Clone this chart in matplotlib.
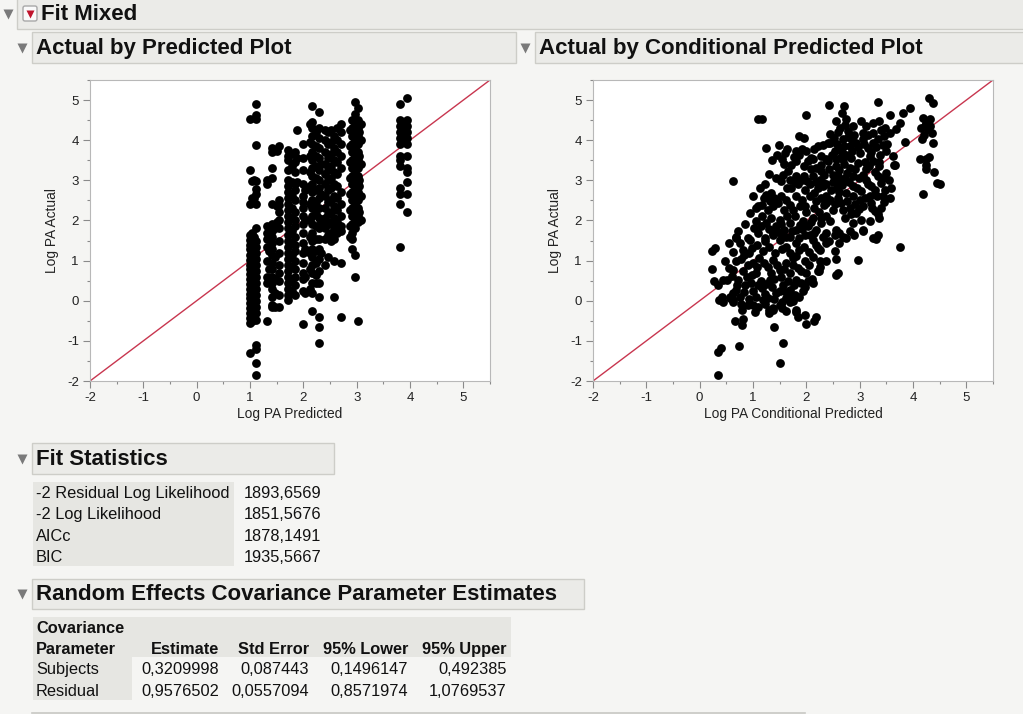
import numpy as np
import matplotlib.pyplot as plt
from matplotlib.patches import Rectangle, FancyBboxPatch

plt.rcParams['font.family'] = ['Liberation Sans', 'DejaVu Sans']
plt.rcParams['axes.unicode_minus'] = False

# ---- data ----
# Actual by Predicted: (Log PA Predicted, Log PA Actual)
pred_pts = [
    # ~1.0
    (1.00, 4.52), (1.00, 3.25), (1.00, 2.42), (1.00, 1.65), (1.00, 1.52), (1.00, 1.40), (1.00, 1.28),
    (1.00, 1.15), (1.00, 1.02), (1.00, 0.90), (1.00, 0.78), (1.00, 0.66), (1.00, 0.54), (1.00, 0.42),
    (1.00, 0.30), (1.00, 0.18), (1.00, 0.06), (1.00, -0.06), (1.00, -0.18), (1.00, -0.30), (1.00, -0.42),
    (1.00, -0.55), (1.00, -1.29),
    (1.04, 2.98), (1.04, 2.55), (1.04, 1.70), (1.04, 1.45), (1.04, 1.20), (1.04, 0.95), (1.04, 0.70),
    (1.04, 0.45), (1.04, 0.20), (1.04, -0.05), (1.04, -0.30), (1.04, -0.50),
    (1.08, 3.00), (1.08, 2.55), (1.08, 1.60), (1.08, 1.10), (1.08, 0.55), (1.08, 0.05), (1.08, -0.20),
    (1.12, 4.89), (1.12, 4.62), (1.12, 4.52), (1.12, 3.88), (1.12, 2.98), (1.12, 2.78), (1.12, 2.65),
    (1.12, 2.40), (1.12, 1.80), (1.12, 1.50), (1.12, 1.35), (1.12, 1.20), (1.12, 1.05), (1.12, 0.90),
    (1.12, 0.75), (1.12, 0.60), (1.12, 0.45), (1.12, 0.30), (1.12, 0.15), (1.12, 0.00), (1.12, -0.15),
    (1.12, -0.30), (1.12, -0.48), (1.12, -1.10), (1.12, -1.20), (1.12, -1.55), (1.12, -1.85),
    # ~1.3 - 1.55
    (1.32, 3.00), (1.32, 2.90), (1.32, 1.85), (1.32, 1.70), (1.32, 1.55), (1.32, 1.35), (1.32, 1.00),
    (1.32, 0.60), (1.32, 0.45), (1.32, -0.50), (1.36, 1.60), (1.36, 1.25), (1.36, 0.80),
    (1.42, 3.80), (1.42, 3.70), (1.42, 3.30), (1.42, 3.05), (1.42, 2.40), (1.42, 1.90), (1.42, 1.75),
    (1.42, 1.60), (1.42, 1.45), (1.42, 1.30), (1.42, 1.15), (1.42, 0.95), (1.42, 0.80), (1.42, 0.60),
    (1.42, 0.45), (1.42, 0.30), (1.42, 0.10), (1.42, -0.10), (1.42, -0.15),
    (1.47, 1.80), (1.47, 1.10), (1.47, 0.55), (1.47, 0.20), (1.47, -0.15),
    (1.50, 3.72), (1.50, 2.35), (1.50, 1.95),
    (1.54, 3.85), (1.54, 2.50), (1.54, 2.38), (1.54, 2.20), (1.54, 2.00), (1.54, 1.80), (1.54, 1.50),
    (1.54, 1.20), (1.54, 0.90), (1.54, 0.70), (1.54, 0.50), (1.54, 0.15), (1.54, -0.15),
    # ~1.7 - 1.9
    (1.72, 3.75), (1.72, 3.60), (1.72, 3.50), (1.72, 3.25), (1.72, 3.00), (1.72, 2.85), (1.72, 2.70),
    (1.72, 2.55), (1.72, 2.40), (1.72, 2.25), (1.72, 2.10), (1.72, 1.95), (1.72, 1.80), (1.72, 1.65),
    (1.72, 1.50), (1.72, 1.35), (1.72, 1.20), (1.72, 1.05), (1.72, 0.90), (1.72, 0.75), (1.72, 0.60),
    (1.72, 0.45), (1.72, 0.30), (1.72, 0.15), (1.72, 0.03),
    (1.78, 3.65), (1.78, 3.35), (1.78, 2.95), (1.78, 2.60), (1.78, 2.30), (1.78, 2.05), (1.78, 1.75),
    (1.78, 1.45), (1.78, 1.15), (1.78, 0.85), (1.78, 0.55), (1.78, 0.25),
    (1.84, 3.70), (1.84, 3.45), (1.84, 3.20), (1.84, 2.90), (1.84, 2.75), (1.84, 2.50), (1.84, 2.20),
    (1.84, 2.00), (1.84, 1.85), (1.84, 1.60), (1.84, 1.40), (1.84, 1.25), (1.84, 1.00), (1.84, 0.80),
    (1.84, 0.60), (1.84, 0.40), (1.84, 0.15), (1.88, 4.25), (1.88, 3.55), (1.88, 2.95),
    # ~2.0
    (1.99, 3.90), (1.99, 3.55), (1.99, 3.25), (1.99, 2.90), (1.99, 2.60), (1.99, 2.45), (1.99, 2.30),
    (1.99, 2.10), (1.99, 1.90), (1.99, 1.70), (1.99, 1.45), (1.99, 1.20), (1.99, 0.95), (1.99, 0.70),
    (1.99, 0.55), (1.99, 0.25), (1.99, -0.58),
    (2.04, 2.75), (2.04, 2.00), (2.04, 1.30), (2.04, 0.60), (2.04, 0.20),
    # ~2.1 - 2.35
    (2.12, 4.40), (2.12, 3.95), (2.12, 3.60), (2.12, 3.20), (2.12, 2.85), (2.12, 2.40), (2.12, 2.00),
    (2.12, 1.60), (2.12, 1.20), (2.12, 0.80), (2.12, 0.30),
    (2.17, 4.85), (2.17, 4.45), (2.17, 4.30), (2.17, 4.10), (2.17, 3.90), (2.17, 3.70), (2.17, 3.50),
    (2.17, 3.30), (2.17, 3.10), (2.17, 2.90), (2.17, 2.70), (2.17, 2.50), (2.17, 2.30), (2.17, 2.10),
    (2.17, 1.90), (2.17, 1.70), (2.17, 1.50), (2.17, 1.30), (2.17, 1.10), (2.17, 0.90), (2.17, 0.70),
    (2.17, 0.45), (2.17, 0.20), (2.17, -0.25),
    (2.23, 4.20), (2.23, 3.85), (2.23, 3.60), (2.23, 3.35), (2.23, 3.05), (2.23, 2.75), (2.23, 2.45),
    (2.23, 2.15), (2.23, 1.85), (2.23, 1.55), (2.23, 1.25), (2.23, 0.95), (2.23, 0.65), (2.23, 0.45),
    (2.29, 4.70), (2.29, 4.30), (2.29, 4.05), (2.29, 3.80), (2.29, 3.55), (2.29, 3.25), (2.29, 3.00),
    (2.29, 2.80), (2.29, 2.55), (2.29, 2.30), (2.29, 2.05), (2.29, 1.80), (2.29, 1.55), (2.29, 1.30),
    (2.29, 1.05), (2.29, 0.75), (2.29, 0.45), (2.29, 0.10), (2.29, -0.40), (2.29, -0.65), (2.29, -1.05),
    (2.33, 3.40), (2.33, 2.65), (2.33, 1.95), (2.33, 1.20),
    # ~2.4 - 2.75
    (2.40, 4.25), (2.40, 4.00), (2.40, 3.70), (2.40, 3.40), (2.40, 3.15), (2.40, 2.90), (2.40, 2.60),
    (2.40, 2.30), (2.40, 2.05), (2.40, 1.80), (2.40, 1.55), (2.40, 0.90),
    (2.46, 4.20), (2.46, 3.90), (2.46, 3.55), (2.46, 3.25), (2.46, 3.00), (2.46, 2.75), (2.46, 2.45),
    (2.46, 2.15), (2.46, 1.90), (2.46, 1.65), (2.46, 1.10),
    (2.52, 4.25), (2.52, 3.95), (2.52, 3.65), (2.52, 3.35), (2.52, 3.05), (2.52, 2.80), (2.52, 2.50),
    (2.52, 2.20), (2.52, 1.95), (2.52, 1.70), (2.52, 1.50),
    (2.58, 4.10), (2.58, 3.80), (2.58, 3.50), (2.58, 3.20), (2.58, 2.90), (2.58, 2.60), (2.58, 2.35),
    (2.58, 2.05), (2.58, 1.80), (2.58, 1.55), (2.58, 1.00), (2.58, 0.10),
    (2.64, 4.30), (2.64, 4.00), (2.64, 3.70), (2.64, 3.45), (2.64, 3.15), (2.64, 2.85), (2.64, 2.55),
    (2.64, 2.25), (2.64, 1.95), (2.64, 1.70),
    (2.70, 4.40), (2.70, 4.20), (2.70, 3.90), (2.70, 3.60), (2.70, 3.30), (2.70, 2.70), (2.70, 2.40),
    (2.70, 2.10), (2.70, 1.85), (2.70, 1.75), (2.70, 0.95), (2.70, -0.40),
    # ~2.9 - 3.05
    (2.87, 4.25), (2.87, 3.85), (2.87, 3.45), (2.87, 3.05), (2.87, 2.65), (2.87, 2.25), (2.87, 1.85),
    (2.87, 1.60),
    (2.92, 4.50), (2.92, 4.30), (2.92, 4.10), (2.92, 3.90), (2.92, 3.70), (2.92, 3.50), (2.92, 3.30),
    (2.92, 3.10), (2.92, 2.90), (2.92, 2.70), (2.92, 2.50), (2.92, 2.30), (2.92, 2.10), (2.92, 1.90),
    (2.92, 1.70), (2.92, 1.55), (2.92, 1.30),
    (2.97, 4.95), (2.97, 4.65), (2.97, 4.40), (2.97, 4.20), (2.97, 4.00), (2.97, 3.80), (2.97, 3.60),
    (2.97, 3.40), (2.97, 3.20), (2.97, 3.00), (2.97, 2.80), (2.97, 2.60), (2.97, 2.40), (2.97, 2.20),
    (2.97, 2.00), (2.97, 1.80), (2.97, 1.15), (2.97, 0.60),
    (3.02, 4.80), (3.02, 4.50), (3.02, 4.30), (3.02, 4.10), (3.02, 3.90), (3.02, 3.70), (3.02, 3.50),
    (3.02, 3.30), (3.02, 3.10), (3.02, 2.90), (3.02, 2.70), (3.02, 2.50), (3.02, 2.30), (3.02, 2.10),
    (3.02, 1.95), (3.02, -0.50),
    (3.05, 4.20), (3.05, 3.60), (3.05, 3.00), (3.05, 2.85), (3.05, 2.20),
    (3.08, 4.40), (3.08, 4.00), (3.08, 3.40), (3.08, 2.60), (3.08, 2.00),
    # ~3.85 - 3.95
    (3.82, 4.90), (3.82, 4.50), (3.82, 4.35), (3.82, 4.20), (3.82, 4.05), (3.82, 3.90), (3.82, 3.60),
    (3.82, 3.50), (3.82, 3.35), (3.82, 2.80), (3.82, 2.65), (3.82, 2.40), (3.82, 1.35),
    (3.88, 4.45), (3.88, 4.25), (3.88, 4.10), (3.88, 3.95),
    (3.94, 5.05), (3.94, 4.50), (3.94, 4.35), (3.94, 4.20), (3.94, 4.05), (3.94, 3.90), (3.94, 3.60),
    (3.94, 3.30), (3.94, 3.20), (3.94, 2.95), (3.94, 2.65), (3.94, 2.20),
]

# Actual by Conditional Predicted: (Log PA Conditional Predicted, Log PA Actual)
cond_pts = [
    # edges / outliers
    (0.34, -1.84), (0.35, -1.27), (0.40, -1.17), (0.73, -1.12), (0.79, -0.60), (0.82, -0.46), (0.66, -0.50),
    (1.40, -0.65), (1.57, -1.06), (1.51, -1.54), (1.99, -0.58), (2.14, -0.50), (0.23, 1.23), (0.29, 1.31),
    (0.24, 0.80), (0.27, 0.48), (0.35, 0.40), (0.41, 0.10), (0.37, 0.02), (0.48, 0.98), (0.62, 2.98),
    (0.60, 0.62), (0.51, 0.52), (0.56, 0.10), (0.63, 0.02), (1.10, 4.52), (1.16, 4.52), (1.99, 4.64),
    (2.42, 4.88), (2.70, 4.85), (2.67, 4.68), (3.35, 4.96), (3.56, 4.64), (3.81, 4.68), (3.94, 4.81),
    (4.30, 5.06), (4.38, 4.92), (4.18, 4.56), (4.25, 4.43), (4.32, 4.52), (4.23, 4.35), (4.16, 4.03),
    (4.35, 4.18), (4.38, 3.93), (4.14, 3.54), (4.25, 3.54), (4.30, 3.58), (4.25, 3.38), (4.24, 3.27),
    (4.39, 3.20), (4.45, 2.93), (4.50, 2.92), (4.19, 2.65), (3.85, 3.96), (3.75, 1.35), (3.66, 3.38),
    (3.56, 2.56), (3.31, 1.54), (2.97, 1.02), (3.07, 1.75), (2.55, 0.64), (2.60, 0.70), (2.55, 1.04),
    (2.24, 0.75), (2.10, 0.54), (1.94, 0.25), (1.85, -0.40), (1.81, -0.27), (1.72, 0.10), (1.37, -0.17),
    (1.30, -0.23), (1.55, -0.18), (1.04, -0.27),
    (3.75, 4.44), (3.68, 4.27), (4.15, 4.31), (4.31, 4.35), (4.21, 4.14), (4.28, 4.27),
    # upper left part of the cloud
    (1.87, 4.10), (1.96, 4.06), (1.49, 3.89), (1.63, 3.79), (1.45, 3.64), (1.60, 3.67), (1.54, 3.52),
    (1.81, 3.73), (1.91, 3.79), (1.87, 3.64), (2.00, 3.73), (2.03, 3.48), (1.81, 3.48), (1.72, 3.39),
    (2.15, 3.77), (2.21, 3.86), (2.12, 3.52), (2.28, 3.60), (2.37, 3.52), (2.40, 3.94),
    (1.66, 3.23), (1.56, 3.14), (1.44, 3.06), (1.53, 2.98), (1.69, 3.02), (1.81, 3.10), (1.84, 2.90),
    (1.72, 2.81), (1.91, 3.02), (1.97, 2.77), (2.09, 3.27), (2.19, 3.31), (2.28, 3.23), (2.12, 3.10),
    (2.25, 3.02), (2.34, 3.14), (2.06, 2.90), (2.22, 2.81), (2.31, 2.85), (2.15, 2.69), (2.37, 2.90),
    (1.13, 2.81), (1.00, 2.60), (1.09, 2.35), (1.16, 2.39), (1.25, 2.64), (1.34, 2.69), (1.40, 2.56),
    (1.47, 2.44), (1.31, 2.48), (1.53, 2.60), (1.62, 2.52), (1.69, 2.39), (1.81, 2.60), (1.91, 2.52),
    (1.97, 2.35), (2.06, 2.60), (2.19, 2.48), (2.28, 2.56), (2.37, 2.44),
    (0.94, 2.19), (1.06, 1.98), (1.16, 2.10), (1.25, 1.94), (1.34, 2.06), (1.44, 1.85), (1.50, 2.02),
    (1.59, 1.77), (1.69, 1.94), (1.78, 2.10), (1.81, 1.77), (1.94, 1.98), (2.03, 1.85), (2.12, 2.06),
    (2.19, 1.77), (2.28, 1.94), (2.37, 2.10), (0.69, 1.60), (0.91, 1.56), (1.09, 1.69), (1.22, 1.56),
    (1.37, 1.69), (1.62, 1.60), (1.87, 1.56), (2.06, 1.64), (2.31, 1.60),
    (1.58, 3.40), (1.76, 3.58), (1.95, 3.35), (2.08, 3.55), (1.64, 2.80), (1.78, 2.95), (1.95, 3.12),
    (2.02, 2.98), (2.18, 2.95), (1.58, 2.25), (1.75, 2.25), (1.88, 2.35), (2.00, 2.20), (2.14, 2.30),
    (2.24, 2.22), (1.53, 1.90), (1.64, 2.10), (1.89, 1.88), (2.08, 1.96), (1.28, 2.25), (1.38, 2.35),
    (1.20, 2.55), (1.05, 2.30), (1.22, 2.90), (1.30, 3.15), (1.35, 3.50), (1.25, 3.80),
    # upper right part of the cloud
    (2.56, 4.48), (2.75, 4.52), (2.87, 4.35), (3.03, 4.48), (3.12, 4.35), (3.25, 4.44), (3.37, 4.48),
    (3.47, 4.31), (3.56, 4.19), (3.06, 4.19), (3.25, 4.19), (2.79, 4.23), (2.64, 4.31),
    (2.31, 3.89), (2.44, 3.94), (2.53, 3.73), (2.68, 4.02), (2.81, 3.85), (2.93, 3.94), (3.06, 4.02),
    (3.15, 3.81), (3.25, 3.94), (3.34, 4.02), (3.43, 3.89), (3.50, 3.73), (3.00, 3.69), (2.75, 3.64),
    (3.19, 3.60), (2.62, 3.81),
    (2.28, 3.39), (2.40, 3.48), (2.56, 3.35), (2.68, 3.52), (2.81, 3.31), (2.96, 3.44), (3.12, 3.27),
    (3.25, 3.48), (3.37, 3.35), (3.50, 3.19), (3.65, 3.39), (2.50, 3.14), (2.87, 3.10), (3.06, 3.14),
    (3.34, 3.10),
    (2.31, 2.94), (2.46, 2.77), (2.62, 2.98), (2.75, 2.69), (2.87, 2.85), (3.03, 2.73), (3.15, 2.90),
    (3.28, 2.77), (3.40, 2.94), (3.43, 2.60), (2.37, 2.60), (2.59, 2.56), (3.00, 2.52), (3.19, 2.60),
    (3.59, 2.81),
    (2.34, 2.39), (2.50, 2.27), (2.65, 2.44), (2.81, 2.31), (2.93, 2.19), (3.06, 2.35), (3.22, 2.44),
    (3.28, 2.23), (3.40, 2.31), (2.28, 2.06), (2.44, 1.98), (2.72, 2.06), (2.87, 1.94), (3.03, 2.02),
    (3.19, 1.98), (3.34, 2.15),
    (2.37, 1.69), (2.56, 1.77), (2.68, 1.60), (2.90, 1.64), (3.06, 1.77), (3.25, 1.56), (3.34, 1.64),
    (2.53, 1.64), (2.62, 1.69), (2.75, 1.56), (2.81, 1.73), (2.42, 1.48), (2.62, 1.44), (2.54, 1.25),
    (2.25, 1.27), (2.25, 0.98),
    (2.45, 4.15), (2.52, 4.05), (2.58, 3.90), (2.66, 3.70), (2.71, 3.85), (2.78, 4.08), (2.85, 3.72),
    (2.90, 4.12), (2.97, 3.83), (2.48, 3.62), (2.55, 3.52), (2.62, 3.25), (2.70, 3.40), (2.77, 3.18),
    (2.84, 3.55), (2.91, 3.28), (2.98, 3.05), (2.43, 3.27), (2.50, 2.95), (2.57, 2.82), (2.66, 2.88),
    (2.72, 3.05), (2.80, 2.95), (2.88, 2.62), (2.95, 2.80), (2.44, 2.52), (2.53, 2.40), (2.61, 2.72),
    (2.69, 2.25), (2.76, 2.48), (2.84, 2.15), (2.92, 2.42), (2.99, 2.28), (2.60, 4.20), (2.73, 4.38),
    (2.86, 4.00), (2.63, 3.55), (2.59, 3.10),
    (3.08, 3.90), (3.15, 4.12), (3.22, 3.70), (3.30, 3.82), (3.38, 3.62), (3.45, 4.10), (3.10, 3.45),
    (3.18, 3.35), (3.28, 3.20), (3.36, 3.45), (3.44, 3.05), (3.12, 3.02), (3.21, 2.85), (3.32, 2.62),
    (3.48, 2.75), (3.10, 2.55), (3.24, 2.30), (3.36, 2.05), (3.46, 2.45), (3.55, 3.02), (3.62, 3.60),
    (3.52, 3.90), (3.40, 4.25),
    # lower part of the cloud
    (0.69, 1.56), (0.75, 1.44), (0.94, 1.52), (1.22, 1.48), (1.37, 1.64), (1.50, 1.52), (1.69, 1.60),
    (1.81, 1.44), (1.97, 1.64), (2.12, 1.52), (2.37, 1.44), (0.81, 1.27), (1.62, 1.35), (1.87, 1.27),
    (2.22, 1.31),
    (0.69, 0.98), (0.84, 1.15), (1.00, 0.94), (1.12, 1.06), (1.28, 0.85), (1.37, 1.02), (1.50, 0.77),
    (1.62, 0.94), (1.75, 1.06), (1.84, 0.81), (1.97, 0.98), (2.12, 1.10), (2.25, 0.85), (2.37, 0.98),
    (0.62, 0.77), (0.81, 0.73), (1.06, 0.69), (1.69, 0.69), (2.00, 0.69), (2.22, 0.73), (0.44, 0.52),
    (0.72, 0.52), (0.84, 0.23), (0.97, 0.44), (1.16, 0.31), (1.31, 0.52), (1.44, 0.19), (1.56, 0.40),
    (1.69, 0.27), (1.81, 0.52), (1.97, 0.35), (0.75, 0.10), (1.06, 0.10), (1.28, 0.06), (1.62, 0.06),
    (1.87, 0.10), (2.12, 0.44), (0.44, -0.02), (0.56, 0.06), (0.62, 0.19), (0.69, 0.27),
    (0.62, -0.02), (0.78, -0.07), (0.90, -0.11), (1.09, -0.15), (1.37, -0.23), (1.50, -0.11),
    (1.69, -0.02), (1.81, -0.23), (1.97, -0.35), (2.19, -0.40),
    (1.02, 1.80), (1.15, 1.85), (1.30, 1.78), (1.46, 1.72), (1.55, 1.60), (1.74, 1.75), (1.92, 1.78),
    (2.15, 1.70), (0.98, 1.32), (1.08, 1.40), (1.18, 1.25), (1.30, 1.35), (1.42, 1.20), (1.55, 1.30),
    (1.70, 1.20), (1.80, 1.12), (1.95, 1.35), (2.05, 1.22), (2.18, 1.40), (0.90, 0.90), (1.08, 0.85),
    (1.20, 0.95), (1.33, 0.68), (1.45, 0.90), (1.58, 0.80), (1.75, 0.88), (1.90, 0.75), (2.05, 0.88),
    (0.88, 0.60), (0.98, 0.65), (1.15, 0.50), (1.25, 0.42), (1.40, 0.55), (1.52, 0.58), (1.65, 0.50),
    (1.76, 0.38), (1.90, 0.45), (2.03, 0.48), (0.85, 0.38), (1.00, 0.25), (1.10, 0.38), (1.22, 0.18),
    (1.35, 0.33), (1.50, 0.25), (1.62, 0.22), (1.78, 0.15), (0.92, 0.05), (1.18, 0.02), (1.40, 0.05),
    (1.55, -0.02), (1.75, 0.00), (0.80, -0.22), (1.00, -0.10), (1.22, -0.08), (1.30, -0.30), (1.62, -0.25),
    (0.55, 1.45), (0.72, 1.75), (0.85, 1.90), (0.62, 1.22), (0.78, 1.05), (0.92, 1.20), (0.55, 0.82),
    (0.70, 0.38),
]

fit_labels = ['-2 Residual Log Likelihood', '-2 Log Likelihood', 'AICc', 'BIC']
fit_values = ['1893,6569', '1851,5676', '1878,1491', '1935,5667']

cov_header_top = 'Covariance'
cov_columns = ['Parameter', 'Estimate', 'Std Error', '95% Lower', '95% Upper']
cov_params = ['Subjects', 'Residual']
cov_estimate = ['0,3209998', '0,9576502']
cov_stderr = ['0,087443', '0,0557094']
cov_lower = ['0,1496147', '0,8571974']
cov_upper = ['0,492385', '1,0769537']

# ---- figure ----
W, H = 1023, 714
BG = '#f5f5f3'
BOX = '#ebebe8'
BOX_EDGE = '#cdcdc8'
TRI = '#7a7a7a'
INK = '#111111'

fig = plt.figure(figsize=(W / 100, H / 100), dpi=100, facecolor=BG)

# full-figure overlay in pixel coordinates for the report chrome
bg = fig.add_axes([0, 0, 1, 1], zorder=0)
bg.set_xlim(0, W)
bg.set_ylim(H, 0)
bg.axis('off')


def header(x0, x1, y0, y1, text, tri_x=None, size=16):
    bg.add_patch(Rectangle((x0, y0), x1 - x0, y1 - y0, facecolor=BOX, edgecolor=BOX_EDGE, lw=1))
    bg.text(x0 + 4, (y0 + y1) / 2 + 1, text, fontsize=size, fontweight='bold',
            va='center', ha='left', color=INK)
    if tri_x is not None:
        bg.plot(tri_x, (y0 + y1) / 2, marker='v', color=TRI, ms=7, mec='none')


def cell(x, y, s, ha='left', bold=False):
    # y is the text baseline in pixels
    bg.text(x, y, s, fontsize=11.8, fontweight='bold' if bold else 'normal',
            va='baseline', ha=ha, color=INK)


header(17, W + 5, -2, 29, '', tri_x=8)
bg.text(41, 14, 'Fit Mixed', fontsize=16, fontweight='bold', va='center', ha='left', color=INK)
bg.add_patch(FancyBboxPatch((23, 6), 14, 15, boxstyle='round,pad=0,rounding_size=2',
                            facecolor='#fafafa', edgecolor='#a8a8a8', lw=1))
bg.plot(30, 13.5, marker='v', color='#c0142c', ms=6, mec='none')

header(32, 516, 32, 63, 'Actual by Predicted Plot', tri_x=22)
header(535, W + 5, 32, 63, 'Actual by Conditional Predicted Plot', tri_x=525)

# plot panels
px = [(90, 490, 'Log PA Predicted', pred_pts), (593, 993, 'Log PA Conditional Predicted', cond_pts)]
for left, right, xlabel, pts in px:
    ax = fig.add_axes([left / W, (H - 381) / H, (right - left) / W, (381 - 80) / H], zorder=2)
    arr = np.array(pts)
    ax.plot([-2, 5.5], [-2, 5.5], color='#c8364f', lw=1, zorder=1)
    ax.scatter(arr[:, 0], arr[:, 1], s=40, color='black', linewidths=0, zorder=2)
    ax.set_xlim(-2, 5.5)
    ax.set_ylim(-2, 5.5)
    ax.set_xticks(np.arange(-2, 6, 1))
    ax.set_yticks(np.arange(-2, 6, 1))
    ax.set_xticks(np.arange(-1.5, 5.6, 0.5), minor=True)
    ax.set_yticks(np.arange(-1.5, 5.6, 0.5), minor=True)
    ax.tick_params(which='major', direction='out', length=5, width=0.8, color='#8a8a8a',
                   labelsize=9.5, labelcolor='#222222', pad=3)
    ax.tick_params(which='minor', direction='out', length=2.5, width=0.8, color='#8a8a8a')
    for sp in ax.spines.values():
        sp.set_color('#b8b8b8')
        sp.set_linewidth(0.8)
    ax.set_facecolor('white')
    ax.set_xlabel(xlabel, fontsize=9.9, color='#222222', labelpad=2)
    ax.set_ylabel('Log PA Actual', fontsize=9.9, color='#222222', labelpad=6)

# Fit Statistics
header(32, 334, 443, 474, 'Fit Statistics', tri_x=22)
bg.add_patch(Rectangle((32.5, 482), 201.5, 84, facecolor='#e6e6e2', edgecolor='none'))
for i, (lab, val) in enumerate(zip(fit_labels, fit_values)):
    y = 498 + i * 21.3
    cell(36, y, lab)
    cell(244, y, val)

# Random Effects Covariance Parameter Estimates
header(32, 584, 579, 609, 'Random Effects Covariance Parameter Estimates', tri_x=22)
bg.add_patch(Rectangle((32.5, 617), 478.5, 40, facecolor='#e6e6e2', edgecolor='none'))
bg.add_patch(Rectangle((32.5, 657), 99.5, 43, facecolor='#e6e6e2', edgecolor='none'))
cell(36, 633, cov_header_top, bold=True)
col_right = [219, 309, 408, 507]
cell(36, 654, cov_columns[0], bold=True)
for xr, name in zip(col_right, cov_columns[1:]):
    cell(xr, 654, name, ha='right', bold=True)
for i, p in enumerate(cov_params):
    y = 674 + i * 21.5
    cell(36, y, p)
    for xr, col in zip(col_right, [cov_estimate, cov_stderr, cov_lower, cov_upper]):
        cell(xr, y, col[i], ha='right')

bg.plot([32, 805], [712.5, 712.5], color='#c8c8c4', lw=1.2)

fig.savefig('out.png', dpi=100, facecolor=BG)
